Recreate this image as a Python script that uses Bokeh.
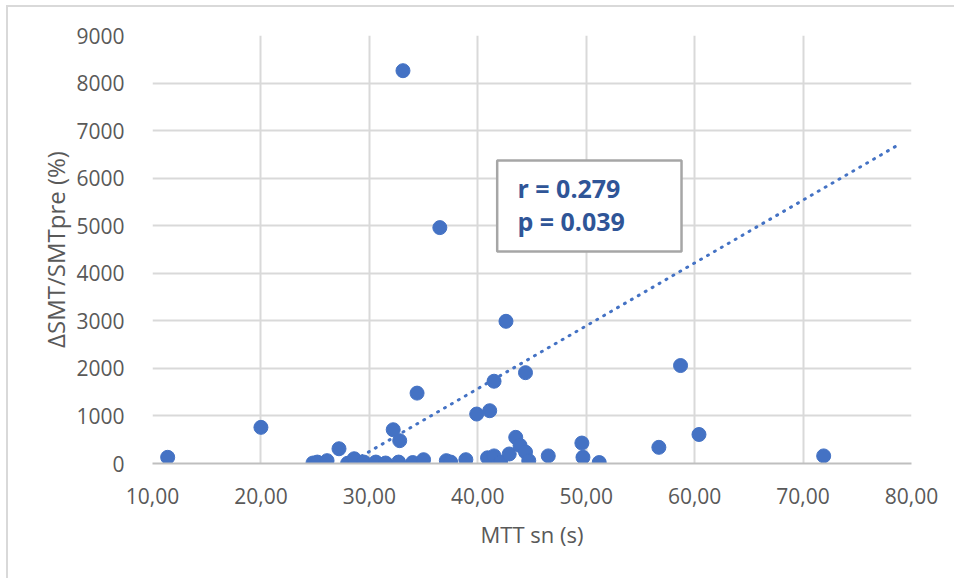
from bokeh.plotting import figure
from bokeh.models import (Range1d, SingleIntervalTicker, CustomJSTickFormatter,
                          BoxAnnotation, Label)
from bokeh.embed import file_html
from bokeh.resources import INLINE

# MTT sn (s) against relative SMT change (%)
mtt_sn = [11.4, 20.0, 24.8, 25.2, 26.1, 27.2, 28.0, 28.6, 29.5, 30.6,
          31.5, 32.2, 32.8, 32.7, 33.1, 34.0, 34.4, 35.0, 36.5, 37.1,
          37.5, 38.9, 39.9, 40.9, 41.1, 41.5, 41.5, 42.1, 42.6, 42.9,
          43.5, 43.9, 44.4, 44.4, 44.7, 46.5, 49.6, 49.7, 51.2, 56.7,
          58.7, 60.4, 71.9]
delta_smt = [130, 760, 10, 30, 60, 310, 5, 100, 30, 30,
             10, 710, 480, 30, 8260, 20, 1480, 80, 4960, 60,
             30, 80, 1040, 120, 1110, 1730, 160, 30, 2990, 200,
             550, 380, 1910, 240, 60, 160, 430, 130, 20, 340,
             2060, 610, 160]

# linear trend line (forecast forward to 79 s)
trend_slope = 132.2
trend_intercept = -3715.0
trend_x = [min(mtt_sn), 79.0]
trend_y = [trend_intercept + trend_slope * x for x in trend_x]

stats_lines = ["r = 0.279", "p = 0.039"]

BLUE = "#4472c4"
GRID = "#d9d9d9"
TICK_TEXT = "#595959"
FONT = "Open Sans"

p = figure(width=948, height=573, output_backend="svg", toolbar_location=None,
           x_range=Range1d(10, 80), y_range=Range1d(0, 9000),
           min_border_left=144, min_border_right=45,
           min_border_top=28, min_border_bottom=117,
           background_fill_color="white", border_fill_color="white")
p.styles = {"margin-left": "6px", "margin-top": "5px",
            "border-left": "2px solid #d9d9d9", "border-top": "2px solid #d9d9d9"}
p.outline_line_color = None

p.xaxis.ticker = SingleIntervalTicker(interval=10)
p.yaxis.ticker = SingleIntervalTicker(interval=1000)
p.xaxis.formatter = CustomJSTickFormatter(code="return tick.toFixed(2).replace('.', ',');")

for ax in (p.xaxis[0], p.yaxis[0]):
    ax.major_tick_line_color = None
    ax.minor_tick_line_color = None
    ax.major_label_text_font = FONT
    ax.major_label_text_font_size = "21px"
    ax.major_label_text_color = TICK_TEXT
    ax.axis_label_text_font = FONT
    ax.axis_label_text_font_style = "normal"
    ax.axis_label_text_color = TICK_TEXT

p.xaxis.axis_label = "MTT sn (s)"
p.yaxis.axis_label = "ΔSMT/SMTpre (%)"
p.xaxis.axis_label_text_font_size = "22px"
p.yaxis.axis_label_text_font_size = "24px"
p.xaxis.axis_line_color = "#bfbfbf"
p.xaxis.axis_line_width = 2
p.yaxis.axis_line_color = None
p.xaxis.major_label_standoff = 18
p.yaxis.major_label_standoff = 22
p.xaxis.axis_label_standoff = 12
p.yaxis.axis_label_standoff = 1

p.xgrid.grid_line_color = GRID
p.ygrid.grid_line_color = GRID
p.xgrid.grid_line_width = 2
p.ygrid.grid_line_width = 2

p.line(trend_x, trend_y, line_color=BLUE, line_width=3, line_dash="1 7",
       line_cap="round")
p.scatter(mtt_sn, delta_smt, size=14, fill_color=BLUE, line_color=BLUE)

# statistics box
p.add_layout(BoxAnnotation(left=41.79, right=58.79, bottom=4458, top=6371,
                           fill_color="white", fill_alpha=1.0,
                           line_color="#a6a6a6", line_alpha=1.0, line_width=2.5))
for txt, yb in zip(stats_lines, [5790, 5090]):
    p.add_layout(Label(x=43.66, y=yb, text=txt, text_font=FONT,
                       text_font_size="25px", text_font_style="bold",
                       text_color="#2f5597", text_baseline="alphabetic"))

open("out.html", "w").write(file_html(p, INLINE))
